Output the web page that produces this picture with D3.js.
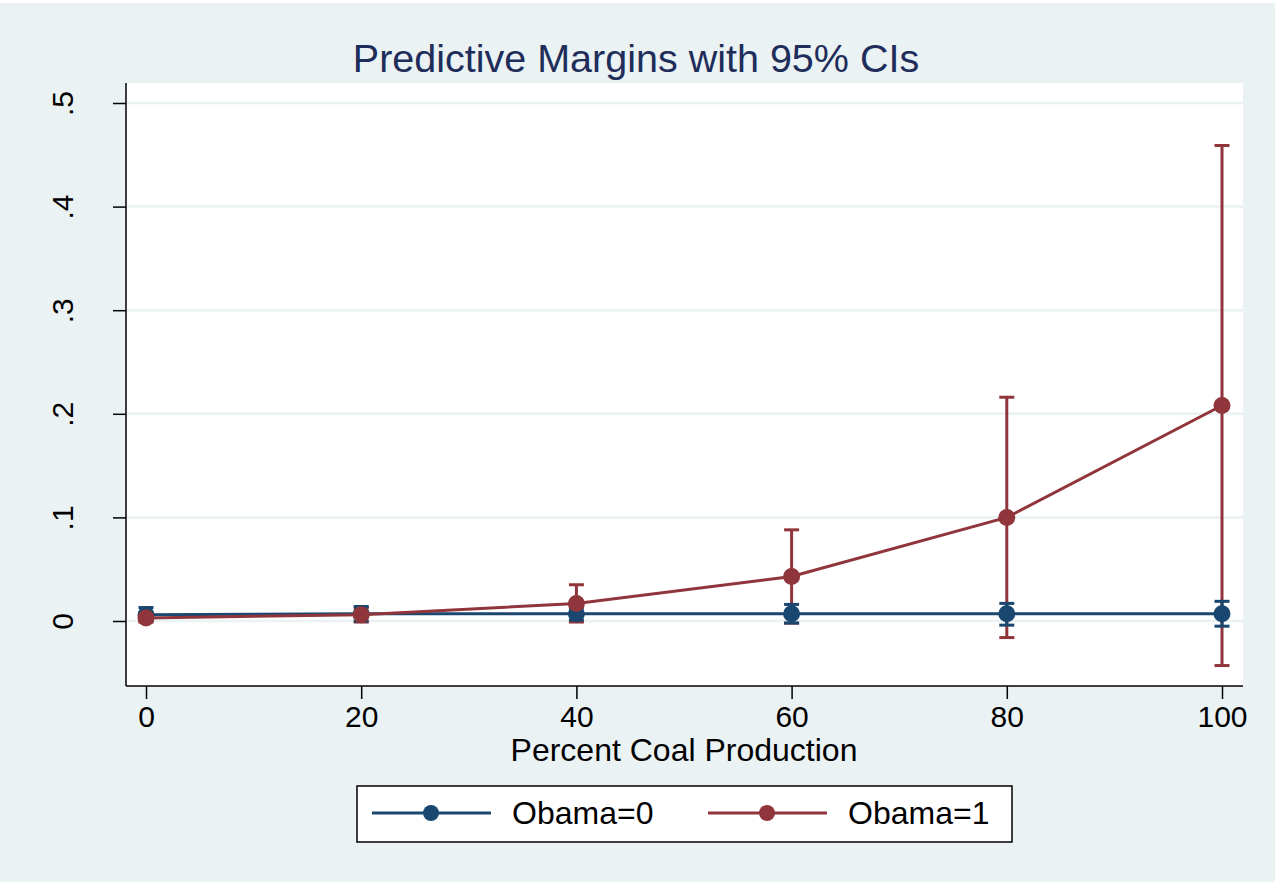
<!DOCTYPE html>
<html>
<head>
<meta charset="utf-8">
<script src="https://cdn.jsdelivr.net/npm/d3@7"></script>
<style>
  body { margin: 0; background: #eaf2f3; }
  svg { display: block; font-family: "Liberation Sans", Arial, sans-serif; }
</style>
</head>
<body>
<svg id="chart" width="1275" height="882"></svg>
<script>
// values
const coal = [0, 20, 40, 60, 80, 100];
const obama0 = [0.006, 0.007, 0.007, 0.007, 0.007, 0.007];
const obama0Lo = [0.000, 0.000, 0.001, -0.002, -0.004, -0.005];
const obama0Hi = [0.013, 0.014, 0.013, 0.016, 0.017, 0.019];
const obama1 = [0.003, 0.006, 0.017, 0.043, 0.100, 0.208];
const obama1Lo = [-0.001, -0.001, -0.001, -0.002, -0.016, -0.043];
const obama1Hi = [0.007, 0.013, 0.035, 0.088, 0.216, 0.459];
const yTicks = [0, 0.1, 0.2, 0.3, 0.4, 0.5];
const yTickLabels = ["0", ".1", ".2", ".3", ".4", ".5"];
const xTicks = [0, 20, 40, 60, 80, 100];
const seriesNames = ["Obama=0", "Obama=1"];
const colors = ["#1a476f", "#90353b"];

const svg = d3.select("#chart");
const W = 1275, H = 882;
const plot = { left: 126, right: 1243, top: 83, bottom: 686 };

svg.append("rect").attr("width", W).attr("height", H).attr("fill", "#eaf2f3");
svg.append("rect").attr("width", W).attr("height", 3).attr("fill", "#ffffff");

const x = d3.scaleLinear().domain([0, 100]).range([146, 1222]);
const y = d3.scaleLinear().domain([0, 0.5]).range([621, 103]);

svg.append("rect")
  .attr("x", plot.left).attr("y", plot.top)
  .attr("width", plot.right - plot.left).attr("height", plot.bottom - plot.top)
  .attr("fill", "#ffffff");

// gridlines
svg.append("g").selectAll("line").data(yTicks).enter().append("line")
  .attr("x1", plot.left).attr("x2", plot.right)
  .attr("y1", d => y(d)).attr("y2", d => y(d))
  .attr("stroke", "#eaf2f3").attr("stroke-width", 2.5);

// axes
const yAxis = svg.append("g").attr("transform", `translate(${plot.left},0)`)
  .call(d3.axisLeft(y).tickValues(yTicks).tickFormat((d, i) => yTickLabels[i]).tickSize(13).tickPadding(0));
yAxis.select(".domain").attr("d", `M0,${plot.top}V${plot.bottom}`).attr("stroke", "#000").attr("stroke-width", 1.5);
yAxis.selectAll(".tick line").attr("stroke", "#000").attr("stroke-width", 1.5);
yAxis.selectAll(".tick text")
  .attr("x", 0).attr("dy", null)
  .attr("text-anchor", "middle")
  .attr("transform", "translate(-53,0) rotate(-90)")
  .attr("font-size", 30).attr("fill", "#000")
  .style("font-family", "'Liberation Sans', Arial, sans-serif");

const xAxis = svg.append("g").attr("transform", `translate(0,${plot.bottom})`)
  .call(d3.axisBottom(x).tickValues(xTicks).tickSize(13).tickPadding(7));
xAxis.select(".domain").attr("d", `M${plot.left},0H${plot.right}`).attr("stroke", "#000").attr("stroke-width", 1.5);
xAxis.selectAll(".tick line").attr("stroke", "#000").attr("stroke-width", 1.5);
xAxis.selectAll(".tick text")
  .attr("font-size", 30).attr("fill", "#000")
  .style("font-family", "'Liberation Sans', Arial, sans-serif");

// title and axis title
svg.append("text").attr("x", 636).attr("y", 72).attr("text-anchor", "middle")
  .attr("font-size", 39.5).attr("fill", "#1e2d5a").text("Predictive Margins with 95% CIs");
svg.append("text").attr("x", 684).attr("y", 761).attr("text-anchor", "middle")
  .attr("font-size", 32).attr("fill", "#000").text("Percent Coal Production");

// series
const series = [
  { name: seriesNames[0], mean: obama0, lo: obama0Lo, hi: obama0Hi, color: colors[0] },
  { name: seriesNames[1], mean: obama1, lo: obama1Lo, hi: obama1Hi, color: colors[1] }
];

const cap = 7.5;
// CIs: Obama=1 first, Obama=0 on top of it
[series[1], series[0]].forEach(s => {
  const g = svg.append("g").attr("stroke", s.color).attr("stroke-width", 3).attr("fill", "none");
  coal.forEach((c, i) => {
    g.append("line").attr("x1", x(c)).attr("x2", x(c)).attr("y1", y(s.lo[i])).attr("y2", y(s.hi[i]));
    g.append("line").attr("x1", x(c) - cap).attr("x2", x(c) + cap).attr("y1", y(s.lo[i])).attr("y2", y(s.lo[i]));
    g.append("line").attr("x1", x(c) - cap).attr("x2", x(c) + cap).attr("y1", y(s.hi[i])).attr("y2", y(s.hi[i]));
  });
});

const line = d3.line().x(d => x(d[0])).y(d => y(d[1]));
series.forEach(s => {
  const pts = coal.map((c, i) => [c, s.mean[i]]);
  svg.append("path").datum(pts).attr("d", line)
    .attr("fill", "none").attr("stroke", s.color).attr("stroke-width", 3);
  svg.append("g").selectAll("circle").data(pts).enter().append("circle")
    .attr("cx", d => x(d[0])).attr("cy", d => y(d[1])).attr("r", 8.5)
    .attr("fill", s.color);
});

// legend
const legend = svg.append("g");
legend.append("rect").attr("x", 357).attr("y", 786).attr("width", 655).attr("height", 56)
  .attr("fill", "#ffffff").attr("stroke", "#000").attr("stroke-width", 1.5);
series.forEach((s, i) => {
  const lx = 372 + i * 336;
  legend.append("line").attr("x1", lx).attr("x2", lx + 119).attr("y1", 813).attr("y2", 813)
    .attr("stroke", s.color).attr("stroke-width", 3);
  legend.append("circle").attr("cx", lx + 59).attr("cy", 813).attr("r", 8).attr("fill", s.color);
  legend.append("text").attr("x", lx + 140).attr("y", 824).attr("font-size", 32).attr("fill", "#000").text(s.name);
});
</script>
</body>
</html>
